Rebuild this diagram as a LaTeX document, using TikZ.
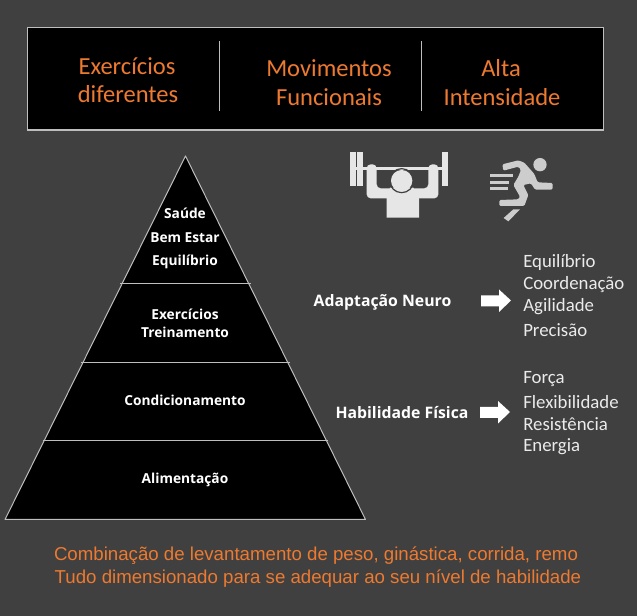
\documentclass[tikz,border=0pt]{standalone}
\usepackage{fontspec}
\setmainfont{Carlito}
\newfontfamily\boldlabel{Open Sans}[BoldFont={Open Sans Bold}]
\newfontfamily\captionfont{Liberation Sans}
\definecolor{bggray}{RGB}{64,64,64}
\definecolor{edgegray}{RGB}{190,190,190}
\definecolor{orangetxt}{RGB}{237,122,48}
\definecolor{iconlight}{RGB}{230,230,230}
\definecolor{iconmid}{RGB}{205,205,205}
\tikzset{
  headtext/.style={text=orangetxt,font=\fontsize{18.4}{20}\selectfont,inner sep=0pt},
  pyrtext/.style={text=white,font=\boldlabel\bfseries\fontsize{10.3}{12}\selectfont,inner sep=0pt},
  sidetext/.style={text=white,font=\boldlabel\bfseries\fontsize{11.85}{14}\selectfont,inner sep=0pt},
  listtext/.style={text=white!92!black,anchor=west,font=\fontsize{14.1}{16}\selectfont,inner sep=0pt},
  captext/.style={text=orangetxt,font=\captionfont\fontsize{14}{16}\selectfont,inner sep=0pt},
  blockarrow/.style={fill=white,draw=none},
}
\begin{document}
\begin{tikzpicture}[x=0.75pt,y=0.75pt,yscale=-1,xscale=1]
\useasboundingbox (0,0) rectangle (637,616);
\fill[bggray] (0,0) rectangle (637,616);

%Top box
\draw[edgegray,fill=black,line width=0.9pt] (27.5,27.5) rectangle (603.5,130);
\draw[edgegray,line width=0.75pt] (219.5,41) -- (219.5,111.5);
\draw[edgegray,line width=0.75pt] (421.5,41) -- (421.5,111.5);

% Text Node
\node[headtext] (exA) at (127,66) {Exercícios};
\node[headtext] (exB) at (128,94.5) {diferentes};
\node[headtext] (movA) at (329,68) {Movimentos};
\node[headtext] (movB) at (329,97) {Funcionais};
\node[headtext] (altaA) at (501,68) {Alta};
\node[headtext] (altaB) at (502,97) {Intensidade};

%Pyramid
\draw[edgegray,fill=black,line width=0.75pt,line join=round] (185.5,156) -- (365.5,519.5) -- (5,519.5) -- cycle;
\draw[edgegray,line width=0.75pt] (120,283.5) -- (251,283.5);
\draw[edgegray,line width=0.75pt] (81,362.5) -- (290,362.5);
\draw[edgegray,line width=0.75pt] (43,440.5) -- (328,440.5);

% Text Node
\node[pyrtext] (saude) at (185,213) {Saúde};
\node[pyrtext] (bem) at (185,238) {Bem Estar};
\node[pyrtext] (equil) at (185,262) {Equilíbrio};
\node[pyrtext] (exerc) at (185,314) {Exercícios};
\node[pyrtext] (trein) at (185,332) {Treinamento};
\node[pyrtext] (cond) at (185,400.5) {Condicionamento};
\node[pyrtext] (alim) at (185,480) {Alimentação};

% Text Node
\node[sidetext] (neuro) at (382.5,302) {Adaptação Neuro};
\node[sidetext] (fisica) at (402,413) {Habilidade Física};

%Block arrows
\path[blockarrow] (481,295.5) -- (499,295.5) -- (499,289.5) -- (511,300.5) -- (499,312) -- (499,306.5) -- (481,306.5) -- cycle;
\path[blockarrow] (480,407) -- (498,407) -- (498,401) -- (510,412) -- (498,423.5) -- (498,418) -- (480,418) -- cycle;

% Text Node
\node[listtext] (l1) at (523,262) {Equilíbrio};
\node[listtext] (l2) at (523,285) {Coordenação};
\node[listtext] (l3) at (523,307) {Agilidade};
\node[listtext] (l4) at (523,330) {Precisão};
\node[listtext] (l5) at (523,379) {Força};
\node[listtext] (l6) at (523,402) {Flexibilidade};
\node[listtext] (l7) at (523,424) {Resistência};
\node[listtext] (l8) at (523,447) {Energia};

% Text Node
\node[captext] (capA) at (316,556) {Combinação de levantamento de peso, ginástica, corrida, remo};
\node[captext] (capB) at (318,579) {Tudo dimensionado para se adequar ao seu nível de habilidade};

%Weightlifter
\begin{scope}[shift={(345,145)},x=0.25pt,y=0.25pt]
\fill[iconlight] (15,20) rectangle (33,122);
\fill[iconlight] (37,20) rectangle (53,122);
\fill[iconlight] (291,20) rectangle (308,122);
\fill[iconlight] (15,65) rectangle (310,75);
\fill[iconlight,rounded corners=3pt] (65,160) -- (65,58) -- (95,58) -- (95,130) -- (250,130) -- (250,58) -- (280,58) -- (280,160) -- cycle;
\fill[iconlight] (135,128) -- (205,128) -- (222,160) -- (222,218) -- (125,218) -- (125,160) -- cycle;
\draw[bggray,line width=0.9pt] (170,107) circle (36);
\fill[iconlight] (170,107) circle (32);
\end{scope}

%Runner
\begin{scope}[shift={(485,150)},x=0.25pt,y=0.25pt]
\fill[iconmid] (165,44) circle (20);
\fill[iconmid,rounded corners=1pt] (52,43) -- (100,31) -- (118,38) -- (148,72) -- (158,97) -- (203,99) -- (203,119) -- (150,119) -- (138,100) -- (115,105) -- (130,135) -- (118,168) -- (43,168) -- (43,150) -- (100,148) -- (105,140) -- (85,105) -- (100,80) -- (108,60) -- (100,50) -- (55,62) -- cycle;
\fill[iconmid] (56,204) -- (85,178) -- (105,178) -- (70,214) -- cycle;
\fill[iconmid] (15,72) rectangle (85,82);
\fill[iconmid] (15,92) rectangle (72,102);
\fill[iconmid] (15,110) rectangle (70,120);
\end{scope}
\end{tikzpicture}
\end{document}
